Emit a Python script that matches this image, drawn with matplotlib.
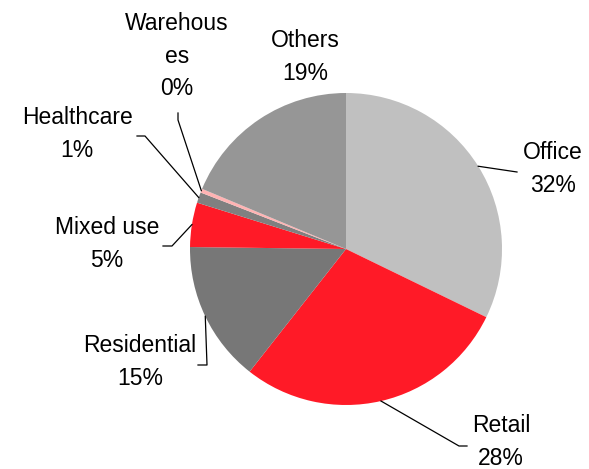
import numpy as np
import matplotlib
matplotlib.use('Agg')
import matplotlib.pyplot as plt

plt.rcParams['font.family'] = ['Liberation Sans', 'DejaVu Sans']

# data
sectors = ['Office', 'Retail', 'Residential', 'Mixed use', 'Healthcare', 'Warehouses', 'Others']
shares = [32.2, 28.4, 14.6, 4.6, 1.1, 0.4, 18.7]
label_texts = ['Office\n32%', 'Retail\n28%', 'Residential\n15%', 'Mixed use\n5%',
               'Healthcare\n1%', 'Warehous\nes\n0%', 'Others\n19%']
colors = ['#c0c0c0', '#ff1a27', '#777777', '#ff1a27', '#808080', '#ffb3b3', '#969696']

W, H = 589, 469
fig = plt.figure(figsize=(W / 100, H / 100), dpi=100)
ax = fig.add_axes([0, 0, 1, 1])

cx, cy, r = 346, H - 249, 156
wedges, _ = ax.pie(shares, colors=colors, startangle=90, counterclock=False,
                   center=(cx, cy), radius=r, frame=True,
                   wedgeprops=dict(linewidth=0))
ax.set_xlim(0, W)
ax.set_ylim(0, H)
ax.set_aspect('equal')
ax.axis('off')

def px(x, y):
    return x, H - y

# label centres (pixel coords, top-left origin) and leader elbows
label_pos = {
    'Office': (553, 169),
    'Retail': (501, 442),
    'Residential': (140, 362),
    'Mixed use': (107, 244),
    'Healthcare': (77, 134),
    'Warehouses': (177, 56),
    'Others': (305, 57),
}
leaders = {
    'Office': [(517, 172)],
    'Retail': [(459, 446), (467, 446)],
    'Residential': [(207, 365), (198, 365)],
    'Mixed use': [(172, 246), (163, 246)],
    'Healthcare': [(145, 136), (137, 136)],
    'Warehouses': [(178, 120), (178, 113)],
}

for w, name, txt in zip(wedges, sectors, label_texts):
    x, y = label_pos[name]
    ax.text(*px(x, y), txt, ha='center', va='center', fontsize=16.5,
            linespacing=1.52, color='black')
    if name in leaders:
        ang = np.deg2rad((w.theta1 + w.theta2) / 2)
        ex, ey = cx + r * np.cos(ang), cy + r * np.sin(ang)
        pts = [(ex, ey)] + [px(a, b) for a, b in leaders[name]]
        xs, ys = zip(*pts)
        ax.plot(xs, ys, color='black', lw=0.9)

fig.savefig('out.png', dpi=100)
